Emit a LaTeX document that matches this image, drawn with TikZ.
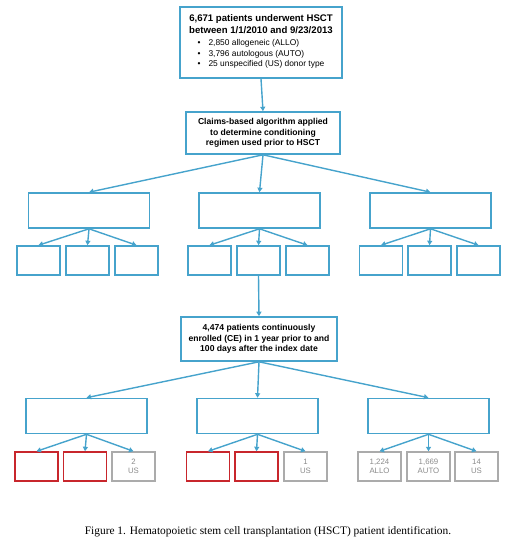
\documentclass[tikz,border=0pt]{standalone}
\usepackage{fontspec}
\setmainfont{Liberation Serif}
\setsansfont{Liberation Sans}
\usepackage{tikz}
\usetikzlibrary{arrows.meta,positioning}
\definecolor{FlowBlue}{HTML}{46A3CC}
\definecolor{FlowRed}{HTML}{C8262C}
\definecolor{FlowGray}{HTML}{ABABAB}
\definecolor{FlowText}{HTML}{8A8A8A}

\begin{document}
\begin{tikzpicture}[x=1pt, y=-1pt,
    mainbox/.style={draw=FlowBlue, line width=1.6pt, fill=white, align=center, inner sep=2pt, font=\sffamily\bfseries\fontsize{8.6}{10.6}\selectfont},
    groupbox/.style={draw=FlowBlue, line width=1.6pt, minimum width=121pt, minimum height=35pt},
    leafbox/.style={draw=FlowBlue, line width=1.6pt, minimum width=43pt, minimum height=29pt},
    redbox/.style={draw=FlowRed, line width=1.4pt, minimum width=43pt, minimum height=29pt},
    usbox/.style={draw=FlowGray, line width=1.4pt, minimum width=43pt, minimum height=29pt, align=center, text=FlowText, font=\sffamily\fontsize{7.8}{9.4}\selectfont},
    flow/.style={draw=FlowBlue, line width=1.4pt, -{Triangle[width=5pt,length=4.5pt]}}
]
    \useasboundingbox (0,0) rectangle (520,546);

    % top of the flow
    \node[mainbox, minimum width=162pt, minimum height=71pt, font=\sffamily\bfseries\fontsize{9.6}{11.2}\selectfont] (hsct) at (261,42.5)
        {6,671 patients underwent HSCT\\ between 1/1/2010 and 9/23/2013\\[4pt]
         {\mdseries\fontsize{8.4}{10.6}\selectfont\begin{tabular}{@{}l@{\hspace{8pt}}l@{}}
            \textbullet & 2,850 allogeneic (ALLO)\\
            \textbullet & 3,796 autologous (AUTO)\\
            \textbullet & 25 unspecified (US) donor type
         \end{tabular}}};
    \node[mainbox, minimum width=154pt, minimum height=42pt] (algo) at (263,133)
        {Claims-based algorithm applied\\ to determine conditioning\\ regimen used prior to HSCT};

    % first split
    \node[groupbox] (ga) at (89,210.5) {};
    \node[groupbox] (gb) at (259.5,210.5) {};
    \node[groupbox] (gc) at (430.5,210.5) {};

    \node[leafbox] (ga1) at (38.5,260.5) {};
    \node[leafbox] (ga2) at (87.5,260.5) {};
    \node[leafbox] (ga3) at (136.5,260.5) {};
    \node[leafbox] (gb1) at (209.5,260.5) {};
    \node[leafbox] (gb2) at (258.5,260.5) {};
    \node[leafbox] (gb3) at (307.5,260.5) {};
    \node[leafbox] (gc1) at (381,260.5) {};
    \node[leafbox] (gc2) at (429.5,260.5) {};
    \node[leafbox] (gc3) at (478.5,260.5) {};

    % continuous enrollment
    \node[mainbox, minimum width=156pt, minimum height=44pt] (ce) at (259,339)
        {4,474 patients continuously\\ enrolled (CE) in 1 year prior to and\\ 100 days after the index date};

    \node[groupbox] (ca) at (86.5,416) {};
    \node[groupbox] (cb) at (257.5,416) {};
    \node[groupbox] (cc) at (428.5,416) {};

    \node[redbox] (ca1) at (36.5,466.5) {};
    \node[redbox] (ca2) at (85,466.5) {};
    \node[usbox] (ca3) at (133.5,466.5) {2\\US};
    \node[redbox] (cb1) at (208,466.5) {};
    \node[redbox] (cb2) at (256.5,466.5) {};
    \node[usbox] (cb3) at (305.5,466.5) {1\\US};
    \node[usbox] (cc1) at (379.5,466.5) {1,224\\ALLO};
    \node[usbox] (cc2) at (428.5,466.5) {1,669\\AUTO};
    \node[usbox] (cc3) at (476.5,466.5) {14\\US};

    % connectors
    \draw[flow] (hsct.south) -- (algo.north);
    \foreach \g in {ga,gb,gc} {
        \draw[flow] (algo.south) -- (\g.north);
        \foreach \i in {1,2,3}
            \draw[flow] (\g.south) -- (\g\i.north);
    }
    \draw[flow] (gb2.south) -- (ce.north);
    \foreach \g in {ca,cb,cc} {
        \draw[flow] (ce.south) -- (\g.north);
        \foreach \i in {1,2,3}
            \draw[flow] (\g.south) -- (\g\i.north);
    }

    \node[font=\fontsize{11.4}{13}\selectfont] (caption) at (268,532)
        {Figure 1. Hematopoietic stem cell transplantation (HSCT) patient identification.};
\end{tikzpicture}
\end{document}
